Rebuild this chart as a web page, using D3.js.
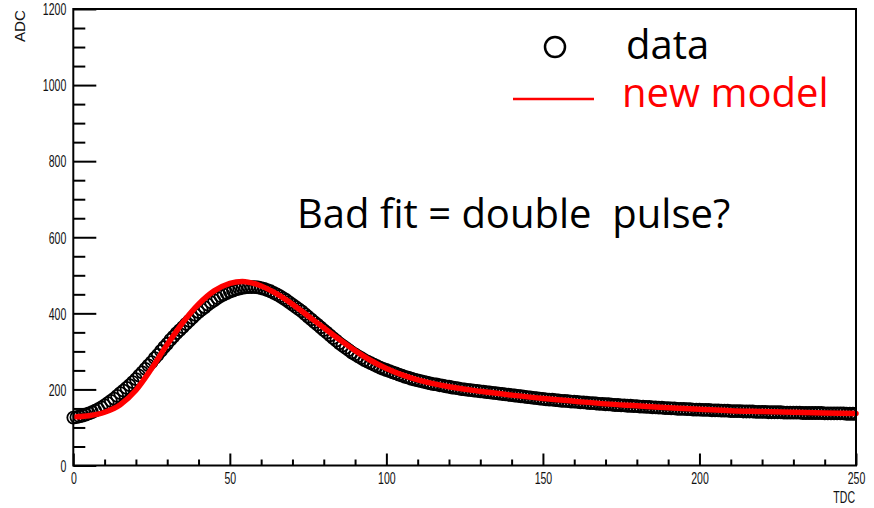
<!DOCTYPE html>
<html>
<head>
<meta charset="utf-8">
<script src="https://cdn.jsdelivr.net/npm/d3@7"></script>
<style>
  body { margin: 0; background: #fff; }
  svg { display: block; }
</style>
</head>
<body>
<svg id="chart" width="874" height="508"></svg>
<script>
// ADC samples, one per TDC channel 0..250
const adcData = [
  126,127,129,131,134,137,140,144,148,153,158,
  164,170,176,183,190,197,204,211,219,227,
  236,245,254,263,272,282,291,301,311,320,
  330,339,348,356,364,372,380,388,396,403,
  410,416,423,429,434,440,445,449,453,457,
  460,463,465,467,468,469,469,469,468,466,
  464,461,458,454,450,445,440,435,429,423,
  417,411,405,398,391,384,377,370,363,356,
  349,342,335,328,321,315,309,303,297,292,
  287,282,277,273,269,265,261,257,254,251,
  248,245,242,239,236,233,231,228,226,224,
  222,220,218,216,214,213,211,210,208,207,
  205,204,203,201,200,199,198,197,196,195,
  194,193,192,191,190,189,188,187,186,185,
  184,183,182,181,180,179,178,177,176,175,
  174,173,173,172,171,170,170,169,168,168,
  167,166,166,165,164,164,163,162,162,161,
  161,160,159,159,158,158,157,157,156,156,
  155,155,154,154,153,153,152,152,151,151,
  150,150,149,149,149,148,148,147,147,147,
  146,146,146,145,145,145,144,144,144,143,
  143,143,143,142,142,142,142,141,141,141,
  141,140,140,140,140,140,139,139,139,139,
  139,139,138,138,138,138,138,138,138,137,
  137,137,137,137,137,137,136,136,136,136
];
const tdcChannels = d3.range(adcData.length);

// Fitted pulse model ("new model"), sampled along TDC
const modelTdc = [1, 5, 10, 15, 20, 25, 30, 35, 40, 45, 50, 54, 60, 65, 70, 75, 80, 85, 90, 95, 100,
                  110, 120, 130, 140, 150, 160, 170, 180, 190, 200, 210, 220, 230, 240, 250];
const modelAdc = [128, 131, 140, 160, 198, 255, 318, 376, 424, 459, 479, 484, 472, 451, 424, 393, 362, 331, 302, 276, 255,
                  225, 207, 195, 185, 176, 169, 162, 157, 152, 148, 144, 142, 140, 138, 137];

// Axis ticks
const xMajor = [0, 50, 100, 150, 200, 250];
const xMinor = [10, 20, 30, 40, 60, 70, 80, 90, 110, 120, 130, 140, 160, 170, 180, 190, 210, 220, 230, 240];
const yMajor = [0, 200, 400, 600, 800, 1000, 1200];
const yMinor = [50, 100, 150, 250, 300, 350, 450, 500, 550, 650, 700, 750, 850, 900, 950, 1050, 1100, 1150];

const svg = d3.select("#chart");
const L = 73.3, R = 856, T = 9, B = 465.5;
const x = d3.scaleLinear().domain([0, 250]).range([L, R]);
const y = d3.scaleLinear().domain([0, 1200]).range([B, T]);

const labelFont = "'Liberation Sans', Arial, Helvetica, sans-serif";
const squeeze = 0.62;

// Data markers (open circles)
svg.append("clipPath").attr("id", "plotArea")
  .append("rect").attr("x", L - 8).attr("y", T).attr("width", R - L + 8).attr("height", B - T);

svg.append("g").attr("clip-path", "url(#plotArea)")
  .selectAll("circle").data(tdcChannels).join("circle")
  .attr("cx", d => x(d))
  .attr("cy", d => y(adcData[d]))
  .attr("r", 6)
  .attr("fill", "none")
  .attr("stroke", "#000")
  .attr("stroke-width", 1.8);

// Model curve
const modelLine = d3.line()
  .x((d, i) => x(modelTdc[i]))
  .y(d => y(d))
  .curve(d3.curveMonotoneX);
svg.append("path")
  .attr("d", modelLine(modelAdc))
  .attr("fill", "none")
  .attr("stroke", "#ff0000")
  .attr("stroke-width", 5.5)
  .attr("stroke-linecap", "round");

// Axes
function styleAxis(g) {
  g.select(".domain").remove();
  g.selectAll(".tick line").attr("stroke", "#000").attr("stroke-width", 2);
}

const yAxisMinor = svg.append("g").attr("transform", `translate(${L},0)`)
  .call(d3.axisLeft(y).tickValues(yMinor).tickSize(-12).tickFormat(""));
styleAxis(yAxisMinor);

const yAxis = svg.append("g").attr("transform", `translate(${L},0)`)
  .call(d3.axisLeft(y).tickValues(yMajor).tickSize(-23).tickPadding(0).tickFormat(d3.format("d")));
styleAxis(yAxis);
yAxis.selectAll(".tick text")
  .attr("font-family", labelFont).attr("font-size", 17).attr("fill", "#111")
  .attr("x", -7 / squeeze).attr("dy", "0.34em")
  .attr("transform", `scale(${squeeze},1)`);

const xAxisMinor = svg.append("g").attr("transform", `translate(0,${B})`)
  .call(d3.axisBottom(x).tickValues(xMinor).tickSize(-6).tickFormat(""));
styleAxis(xAxisMinor);

const xAxis = svg.append("g").attr("transform", `translate(0,${B})`)
  .call(d3.axisBottom(x).tickValues(xMajor).tickSize(-12).tickPadding(6).tickFormat(d3.format("d")));
styleAxis(xAxis);
xAxis.selectAll(".tick text")
  .attr("font-family", labelFont).attr("font-size", 17).attr("fill", "#111")
  .attr("transform", `scale(${squeeze},1)`);

// Frame
svg.append("rect")
  .attr("x", L).attr("y", T).attr("width", R - L).attr("height", B - T)
  .attr("fill", "none").attr("stroke", "#000").attr("stroke-width", 2);

// Axis titles
svg.append("text")
  .attr("transform", "translate(25,10) rotate(-90)")
  .attr("text-anchor", "end")
  .attr("font-family", labelFont).attr("font-size", 14).attr("fill", "#111")
  .attr("textLength", 32).attr("lengthAdjust", "spacingAndGlyphs")
  .text("ADC");

svg.append("text")
  .attr("transform", `translate(${R - 1},503) scale(${squeeze},1)`)
  .attr("text-anchor", "end")
  .attr("font-family", labelFont).attr("font-size", 17).attr("fill", "#111")
  .text("TDC");

// Legend
const annFont = "'Open Sans', 'Noto Sans', sans-serif";
svg.append("circle")
  .attr("cx", 555).attr("cy", 47).attr("r", 10)
  .attr("fill", "none").attr("stroke", "#000").attr("stroke-width", 2.5);
svg.append("text")
  .attr("x", 626).attr("y", 59)
  .attr("font-family", annFont).attr("font-size", 40).attr("fill", "#000")
  .text("data");

svg.append("line")
  .attr("x1", 513).attr("x2", 594).attr("y1", 99).attr("y2", 99)
  .attr("stroke", "#ff0000").attr("stroke-width", 2.5);
svg.append("text")
  .attr("x", 622).attr("y", 107)
  .attr("font-family", annFont).attr("font-size", 40).attr("fill", "#ff0000")
  .text("new model");

// Annotation
svg.append("text")
  .attr("x", 297).attr("y", 228)
  .attr("font-family", annFont).attr("font-size", 40).attr("fill", "#000")
  .attr("xml:space", "preserve").style("white-space", "pre")
  .text("Bad fit = double  pulse?");
</script>
</body>
</html>
